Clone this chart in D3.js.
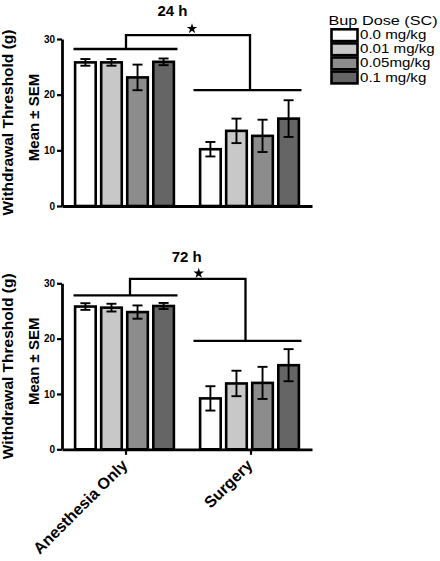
<!DOCTYPE html>
<html><head><meta charset="utf-8">
<script src="https://cdn.jsdelivr.net/npm/d3@7"></script>
<style>body{margin:0;background:#fff} svg{display:block} text{font-family:"Liberation Sans",Arial,Helvetica,sans-serif}</style>
</head><body><svg id="c" width="440" height="561"></svg>
<script>
const groups = ["Anesthesia Only", "Surgery"];
const doses = ["0.0 mg/kg", "0.01 mg/kg", "0.05mg/kg", "0.1 mg/kg"];
const legendTitle = "Bup Dose (SC)";
const panelTitles = ["24 h", "72 h"];
const mean24 = [[25.8, 25.8, 23.1, 25.9], [10.2, 13.5, 12.6, 15.7]];
const sem24  = [[0.6, 0.6, 2.3, 0.6],     [1.3, 2.2, 2.9, 3.3]];
const mean72 = [[25.8, 25.6, 24.8, 25.9], [9.2, 11.9, 12.0, 15.2]];
const sem72  = [[0.6, 0.7, 1.2, 0.55],    [2.2, 2.3, 2.9, 2.9]];
const yTicks = [0, 10, 20, 30];
const sig24 = {g1: 28.2, top: 30.7, g2: 20.8};
const sig72 = {g1: 27.8, top: 30.8, g2: 19.6};
const fills = ["#ffffff", "#c8c8c8", "#8c8c8c", "#656565"];
const yTitle1 = "Withdrawal Threshold (g)";
const yTitle2 = "Mean \u00b1 SEM";

const svg = d3.select("#c");
const x = d3.scaleBand().domain(groups).range([62, 312]).paddingInner(0).paddingOuter(0);
const xi = d3.scaleBand().domain(doses).range([-52, 52]).paddingInner(0.21).paddingOuter(0.1);

const panels = [
  {title: panelTitles[0], mean: mean24, sem: sem24, sig: sig24, yr: [206, 39], titleX: 172.5, titleY: 15.5, starPos: [192, 28.7], brk: [1.5, 0.5], showX: false},
  {title: panelTitles[1], mean: mean72, sem: sem72, sig: sig72, yr: [449.3, 283.3], titleX: 186.7, titleY: 262, starPos: [198.7, 273.3], brk: [5.5, -4], showX: true}
];

panels.forEach(p => {
  const y = d3.scaleLinear().domain([0, 30]).range(p.yr);
  const g = svg.append("g");
  const data = [];
  groups.forEach((gr, gi) => doses.forEach((d, di) => data.push({gr, d, di, m: p.mean[gi][di], s: p.sem[gi][di]})));

  // bars
  g.selectAll("rect.bar").data(data).join("rect")
    .attr("x", d => x(d.gr) + x.bandwidth() / 2 + xi(d.d))
    .attr("y", d => y(d.m))
    .attr("width", xi.bandwidth())
    .attr("height", d => y(0) - y(d.m))
    .attr("fill", d => fills[d.di])
    .attr("stroke", "#000").attr("stroke-width", 2.6);

  // error bars
  const cx = d => x(d.gr) + x.bandwidth() / 2 + xi(d.d) + xi.bandwidth() / 2;
  const eg = g.append("g").attr("stroke", "#000").attr("stroke-width", 1.9);
  eg.selectAll("line.v").data(data).join("line")
    .attr("x1", cx).attr("x2", cx).attr("y1", d => y(d.m - d.s)).attr("y2", d => y(d.m + d.s));
  eg.selectAll("line.t").data(data).join("line")
    .attr("x1", d => cx(d) - 5).attr("x2", d => cx(d) + 5).attr("y1", d => y(d.m + d.s)).attr("y2", d => y(d.m + d.s));
  eg.selectAll("line.b").data(data).join("line")
    .attr("x1", d => cx(d) - 5).attr("x2", d => cx(d) + 5).attr("y1", d => y(d.m - d.s)).attr("y2", d => y(d.m - d.s));

  // axes
  const ya = g.append("g").attr("transform", "translate(62,0)")
    .call(d3.axisLeft(y).tickValues(yTicks).tickSize(5).tickSizeOuter(0).tickPadding(2));
  ya.select(".domain").attr("stroke-width", 2.8);
  ya.selectAll(".tick line").attr("stroke-width", 2.2);
  ya.selectAll(".tick text").attr("font-size", 10).attr("font-weight", "bold").attr("font-family", "Liberation Sans, Arial, sans-serif").attr("fill", "#000");

  const xa = g.append("g").attr("transform", `translate(0,${y(0)})`)
    .call(d3.axisBottom(x).tickSize(p.showX ? 5.5 : 0).tickSizeOuter(0).tickFormat(p.showX ? (d => d) : () => ""));
  xa.select(".domain").attr("stroke-width", 2.8);
  xa.selectAll(".tick line").attr("stroke-width", 2.2).attr("transform", "translate(1.5,0)");
  if (p.showX) {
    xa.selectAll(".tick text")
      .attr("font-size", 16).attr("font-weight", "bold").attr("fill", "#000")
      .attr("font-family", "Liberation Sans, Arial, sans-serif")
      .attr("text-anchor", "end")
      .attr("transform", "translate(4,17) rotate(-45)")
      .attr("x", 0).attr("y", 0).attr("dy", 0);
  }

  // y titles
  const ymid = (p.yr[0] + p.yr[1]) / 2;
  g.append("text").attr("transform", `translate(13,${ymid}) rotate(-90)`)
    .attr("text-anchor", "middle").attr("font-size", 15.5).attr("font-weight", "bold").text(yTitle1);
  g.append("text").attr("transform", `translate(38.5,${ymid - 5}) rotate(-90)`)
    .attr("text-anchor", "middle").attr("font-size", 15).attr("font-weight", "bold").text(yTitle2);

  // panel title
  g.append("text").attr("x", p.titleX).attr("y", p.titleY)
    .attr("text-anchor", "middle").attr("font-size", 15).attr("font-weight", "bold").text(p.title);

  // significance bracket
  const c1 = x(groups[0]) + x.bandwidth() / 2, c2 = x(groups[1]) + x.bandwidth() / 2;
  const bg = g.append("g").attr("stroke", "#000").attr("stroke-width", 2.3).attr("fill", "none");
  bg.append("line").attr("x1", c1 - 51).attr("x2", c1 + 53).attr("y1", y(p.sig.g1)).attr("y2", y(p.sig.g1));
  bg.append("line").attr("x1", c2 - 56).attr("x2", c2 + 52).attr("y1", y(p.sig.g2)).attr("y2", y(p.sig.g2));
  bg.append("path").attr("d", d3.line()([
    [c1 + p.brk[0], y(p.sig.g1)], [c1 + p.brk[0], y(p.sig.top)],
    [c2 + p.brk[1], y(p.sig.top)], [c2 + p.brk[1], y(p.sig.g2)]
  ]));
  g.append("path").attr("d", d3.symbol(d3.symbolStar).size(34)())
    .attr("transform", `translate(${p.starPos[0]},${p.starPos[1]})`).attr("fill", "#000");
});

// legend
const lg = svg.append("g");
lg.append("g").attr("transform", "translate(328.5,24.5) scale(1.3,1)")
  .append("text").attr("x", 0).attr("y", 0).attr("font-size", 12.5).text(legendTitle);
const li = lg.selectAll("g.item").data(doses).join("g").attr("transform", (d, i) => `translate(0,${29.3 + i * 14.1})`);
li.append("rect").attr("x", 331.5).attr("y", 0).attr("width", 26).attr("height", 11.8)
  .attr("fill", (d, i) => fills[i]).attr("stroke", "#000").attr("stroke-width", 2.6);
li.append("g").attr("transform", "translate(360,9.9) scale(1.26,1)")
  .append("text").attr("x", 0).attr("y", 0).attr("font-size", 12).text(d => d);
</script></body></html>
